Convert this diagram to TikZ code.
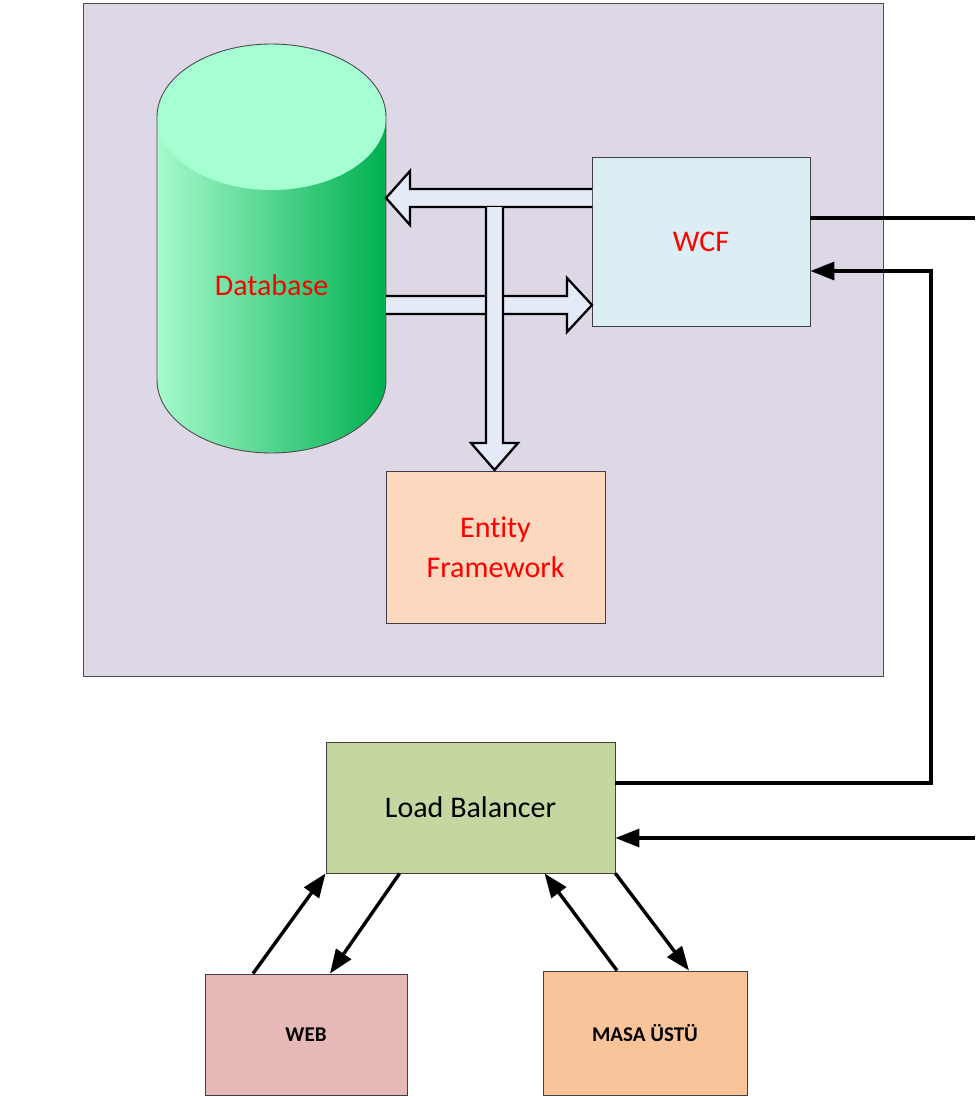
\documentclass[tikz,border=0pt]{standalone}
\usepackage{fontspec}
\setmainfont{Carlito}[Ligatures=NoCommon]
\usetikzlibrary{arrows.meta,calc}
\definecolor{bgp}{RGB}{221,215,230}
\definecolor{wcffill}{RGB}{219,238,244}
\definecolor{effill}{RGB}{251,216,190}
\definecolor{lbfill}{RGB}{196,215,160}
\definecolor{webfill}{RGB}{230,185,184}
\definecolor{masafill}{RGB}{249,196,154}
\definecolor{dbTop}{RGB}{166,255,211}
\definecolor{dbL}{RGB}{166,250,205}
\definecolor{dbR}{RGB}{0,176,80}
\definecolor{blkfill}{RGB}{228,234,246}
\tikzset{
  box/.style={draw=black!75, line width=0.9pt, inner sep=0pt, align=center},
  redtxt/.style={text=red, font=\fontsize{30}{40}\selectfont},
  blktxt/.style={text=black, font=\fontsize{30}{40}\selectfont},
  smalltxt/.style={text=black, font=\bfseries\fontsize{21}{25}\selectfont},
  conn/.style={line width=3.4pt, draw=black},
  arr/.style={conn, -{Triangle[length=24pt,width=18pt]}},
  blk/.style={draw=black, line width=2.3pt, fill=blkfill, line join=miter}
}
\begin{document}
\begin{tikzpicture}[x=1pt,y=-1pt]
\useasboundingbox (0,0) rectangle (975,1097);
% outer frame
\node[box, fill=bgp, draw=black!70, minimum width=800pt, minimum height=673pt] (frame) at (483,339.5) {};
% cylinder
\path[left color=dbL, right color=dbR] (157,117) -- (157,380) arc[start angle=180,end angle=360,x radius=114.5pt,y radius=73pt] -- (386,117) -- cycle;
\fill[dbTop] (271.5,117) ellipse[x radius=114.5pt, y radius=73pt];
\draw[black!70, line width=0.9pt] (157,380) -- (157,117) arc[start angle=180,end angle=0,x radius=114.5pt,y radius=73pt] -- (386,380) arc[start angle=0,end angle=-180,x radius=114.5pt,y radius=73pt];
\node[redtxt] (db) at (271.5,285) {Database};
% WCF and EF
\node[box, fill=wcffill, minimum width=218pt, minimum height=169pt] (wcf) at (701,241.5) {};
\node[redtxt] at (wcf.center) {WCF};
\node[box, fill=effill, minimum width=219pt, minimum height=152pt, redtxt] (ef) at (495.5,547) {Ent\kern0pt ity\\Framework};
% block arrows
\draw[blk] (592,189) -- (410,189) -- (410,171) -- (386,198) -- (410,225) -- (410,207) -- (592,207);
\draw[blk] (386,296) -- (567,296) -- (567,278) -- (592,305) -- (567,332) -- (567,314) -- (386,314);
\draw[blk] (486,207) -- (486,443) -- (471,443) -- (494.5,470) -- (518,443) -- (503,443) -- (503,207);
% lower boxes
\node[box, fill=lbfill, minimum width=289pt, minimum height=131pt, blktxt] (lb) at (470.5,807.5) {Load Balancer};
\node[box, fill=webfill, minimum width=202pt, minimum height=121pt, smalltxt] (web) at (306,1034.5) {WEB};
\node[box, fill=masafill, minimum width=204pt, minimum height=124pt, smalltxt] (masa) at (645,1033) {MASA ÜSTÜ};
% connectors
\coordinate (out1) at (975,218);
\coordinate (j1) at (931,783);
\coordinate (j2) at (931,271);
\coordinate (in1) at (975,838);
\draw[conn] (wcf.east |- out1) -- (out1);
\draw[arr] (lb.east |- j1) -- (j1) -- (j2) -- (wcf.east |- j2);
\draw[arr] (in1) -- (lb.east |- in1);
\draw[arr] ($(web.north)+(-53,0)$) -- (lb.south west);
\draw[arr] ($(lb.south west)+(74,0)$) -- ($(web.north)+(24,0)$);
\draw[arr] ($(masa.north)+(-28,0)$) -- ($(lb.south west)+(219,0)$);
\draw[arr] (lb.south east) -- ($(masa.north)+(44,0)$);
\end{tikzpicture}
\end{document}
